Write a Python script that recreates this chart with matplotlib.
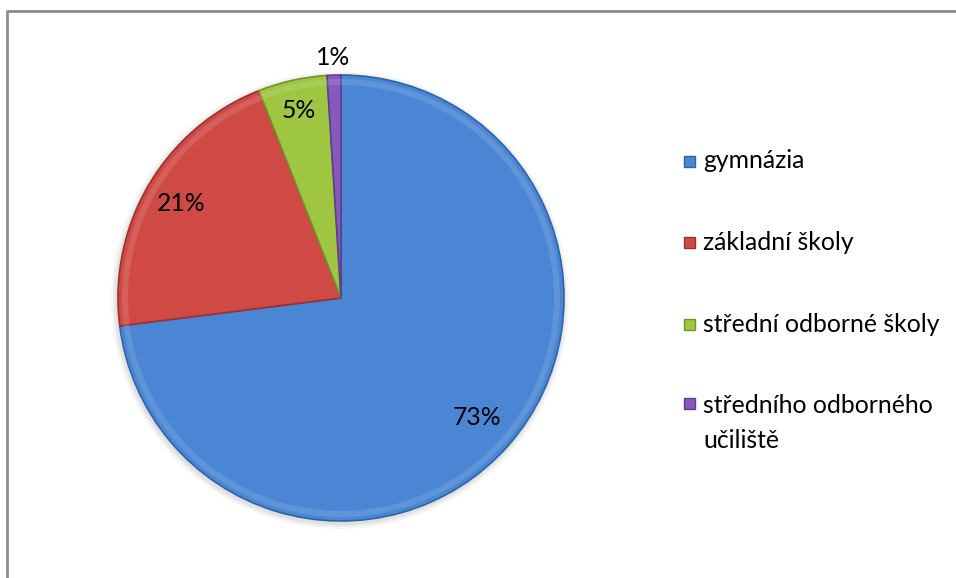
import matplotlib.pyplot as plt
from matplotlib.patches import Rectangle, Circle, Wedge
import numpy as np

# shares of pupils by school type (percent)
categories = ['gymnázia', 'základní školy', 'střední odborné školy', 'středního odborného\nučiliště']
shares = [73, 21, 5, 1]
pct_labels = ['73%', '21%', '5%', '1%']

colors = ['#4a86d4', '#cf4a45', '#9ec641', '#8659bd']
edges = ['#2f63a8', '#9e2f2b', '#74942a', '#5f3d8c']

plt.rcParams['font.family'] = ['Lato', 'DejaVu Sans']
FS = 17.8

W, H = 956, 578
fig = plt.figure(figsize=(W / 100, H / 100), dpi=100)
ax = fig.add_axes([0, 0, 1, 1])

cx, cy, r = 341, H - 298, 223

wedges, _ = ax.pie(shares, colors=colors, startangle=90, counterclock=False,
                   center=(cx, cy), radius=r,
                   wedgeprops=dict(linewidth=1.2, zorder=2))
for w, ec in zip(wedges, edges):
    w.set_edgecolor(ec)
ax.set_xlim(0, W)
ax.set_ylim(0, H)
ax.set_aspect('equal')
ax.axis('off')

# chart frame (only top and left edges fall inside the image)
ax.plot([7.5, 7.5, W + 10], [-10, H - 10.5, H - 10.5], color='#8c8c8c', lw=2,
        solid_capstyle='butt', clip_on=False)

# soft shadow under the pie
for k, a in enumerate([0.05, 0.04, 0.03]):
    ax.add_patch(Circle((cx - 1, cy - 2), r + 2 + 2 * k, color='black', alpha=a, lw=0, zorder=1))

# bevel highlight near the rim
for w in wedges:
    ax.add_patch(Wedge((cx, cy), r - 4, w.theta1, w.theta2, width=6,
                       facecolor='white', alpha=0.12, lw=0, zorder=3))

# percentage labels
dists = [0.81, 0.83, 0.86, 1.08]
for w, lab, d in zip(wedges, pct_labels, dists):
    ang = np.deg2rad((w.theta1 + w.theta2) / 2)
    ax.text(cx + d * r * np.cos(ang), cy + d * r * np.sin(ang), lab,
            ha='center', va='center', fontsize=FS, color='black', zorder=5)

# legend
leg_y = [H - 161, H - 242, H - 324, H - 403]
for y, lab, c, ec in zip(leg_y, categories, colors, edges):
    ax.add_patch(Rectangle((684, y - 5.5), 11, 11, facecolor=c, edgecolor=ec, lw=1, zorder=5))
    if '\n' in lab:
        ax.text(703, y + 9, lab, ha='left', va='top', fontsize=FS, linespacing=1.62)
    else:
        ax.text(703, y, lab, ha='left', va='center', fontsize=FS)

fig.savefig('out.png', dpi=100)
